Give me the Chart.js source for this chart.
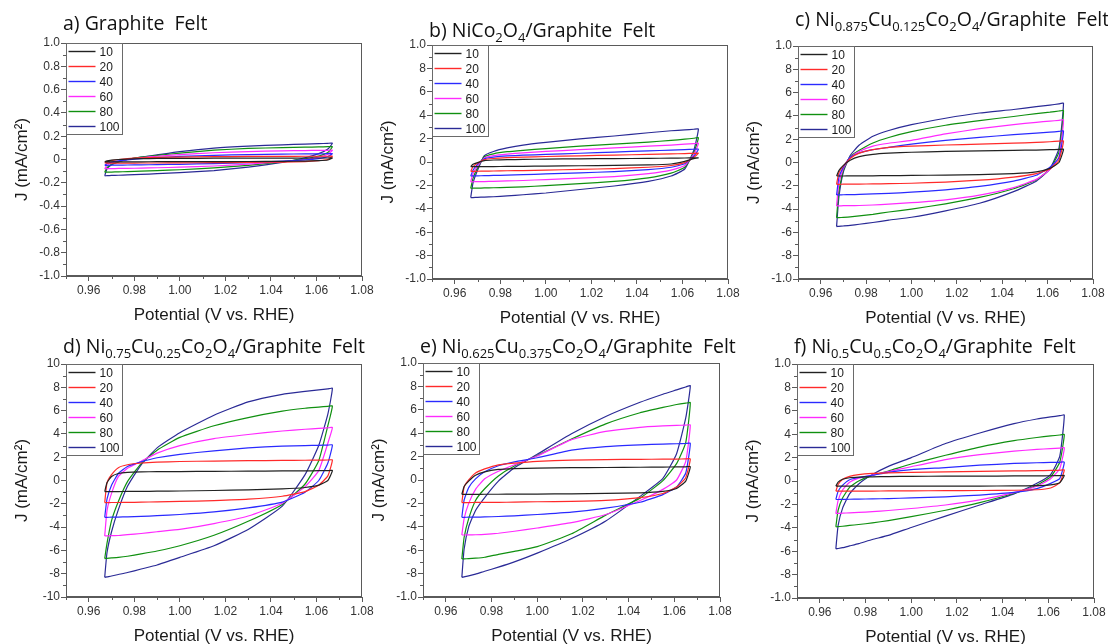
<!DOCTYPE html>
<html>
<head>
<meta charset="utf-8">
<title>Cyclic voltammetry – scan rate series</title>
<script src="https://cdn.jsdelivr.net/npm/chart.js@4.4.1/dist/chart.umd.min.js"></script>
<style>
  html, body { margin: 0; padding: 0; background: #fff; }
  body { width: 1108px; height: 644px; position: relative; overflow: hidden; }
  canvas { position: absolute; }
</style>
</head>
<body>
<script>
// Shared potential grid (V vs. RHE); every loop is sampled on it twice:
// forward (anodic) sweep and reverse (cathodic) sweep.
const POTENTIAL_V = [0.967, 0.968, 0.970, 0.973, 0.977, 0.983, 0.990, 1.000, 1.015, 1.030, 1.045, 1.055, 1.061, 1.065, 1.067];
const SCAN_RATES = ['10', '20', '40', '60', '80', '100'];

const X_TICKS = [0.96, 0.98, 1.00, 1.02, 1.04, 1.06, 1.08];
const X_TICK_LABELS = ['0.96', '0.98', '1.00', '1.02', '1.04', '1.06', '1.08'];
const X_MINOR = [0.95, 0.97, 0.99, 1.01, 1.03, 1.05, 1.07];

const Y_TICKS_SMALL = [-1, -0.8, -0.6, -0.4, -0.2, 0, 0.2, 0.4, 0.6, 0.8, 1];
const Y_LABELS_SMALL = ['-1.0', '-0.8', '-0.6', '-0.4', '-0.2', '0', '0.2', '0.4', '0.6', '0.8', '1.0'];
const Y_MINOR_SMALL = [-0.9, -0.7, -0.5, -0.3, -0.1, 0.1, 0.3, 0.5, 0.7, 0.9];
const Y_TICKS_LARGE = [-10, -8, -6, -4, -2, 0, 2, 4, 6, 8, 10];
const Y_LABELS_LARGE = ['-1.0', '-8', '-6', '-4', '-2', '0', '2', '4', '6', '8', '1.0'];
const Y_LABELS_TEN = ['-10', '-8', '-6', '-4', '-2', '0', '2', '4', '6', '8', '10'];
const Y_MINOR_LARGE = [-9, -7, -5, -3, -1, 1, 3, 5, 7, 9];

// a) Graphite felt (mA/cm2), rows = scan rates 10..100
const GF_ANODIC = [
  [-0.02, -0.012, -0.006, 0.0, 0.004, 0.007, 0.009, 0.01, 0.011, 0.012, 0.012, 0.013, 0.013, 0.013, 0.013],
  [-0.03, -0.02, -0.01, 0.0, 0.008, 0.014, 0.018, 0.021, 0.024, 0.026, 0.027, 0.028, 0.028, 0.028, 0.028],
  [-0.05, -0.035, -0.022, -0.012, -0.003, 0.008, 0.017, 0.026, 0.036, 0.042, 0.046, 0.048, 0.049, 0.05, 0.05],
  [-0.08, -0.05, -0.03, -0.015, 0.0, 0.015, 0.028, 0.042, 0.058, 0.068, 0.074, 0.077, 0.078, 0.079, 0.08],
  [-0.11, -0.07, -0.04, -0.02, 0.0, 0.02, 0.035, 0.055, 0.08, 0.095, 0.102, 0.106, 0.108, 0.11, 0.11],
  [-0.14, -0.08, -0.045, -0.02, 0.0, 0.02, 0.04, 0.068, 0.098, 0.115, 0.126, 0.132, 0.136, 0.139, 0.14]
];
const GF_CATHODIC = [
  [-0.02, -0.02, -0.02, -0.02, -0.02, -0.02, -0.019, -0.019, -0.018, -0.017, -0.016, -0.014, -0.01, -0.004, 0.013],
  [-0.03, -0.031, -0.031, -0.031, -0.031, -0.03, -0.03, -0.029, -0.027, -0.025, -0.022, -0.018, -0.01, 0.0, 0.028],
  [-0.05, -0.05, -0.049, -0.048, -0.047, -0.046, -0.044, -0.041, -0.035, -0.027, -0.014, -0.004, 0.008, 0.025, 0.05],
  [-0.08, -0.079, -0.078, -0.077, -0.076, -0.074, -0.071, -0.066, -0.056, -0.04, -0.018, 0.0, 0.02, 0.045, 0.08],
  [-0.11, -0.109, -0.108, -0.106, -0.104, -0.1, -0.095, -0.088, -0.072, -0.05, -0.02, 0.005, 0.03, 0.06, 0.11],
  [-0.14, -0.139, -0.137, -0.135, -0.132, -0.128, -0.122, -0.113, -0.095, -0.065, -0.025, 0.015, 0.05, 0.09, 0.14]
];

// b) NiCo2O4
const NCO_ANODIC = [
  [-0.4, -0.2, -0.05, 0.12, 0.17, 0.2, 0.22, 0.25, 0.27, 0.29, 0.31, 0.33, 0.34, 0.35, 0.35],
  [-0.8, -0.4, -0.1, 0.2, 0.3, 0.37, 0.42, 0.47, 0.53, 0.59, 0.65, 0.69, 0.72, 0.74, 0.75],
  [-1.2, -0.7, -0.2, 0.28, 0.42, 0.52, 0.58, 0.65, 0.75, 0.85, 0.95, 1.02, 1.06, 1.09, 1.1],
  [-1.7, -1.0, -0.35, 0.35, 0.55, 0.68, 0.78, 0.9, 1.05, 1.2, 1.35, 1.45, 1.52, 1.57, 1.6],
  [-2.25, -1.4, -0.5, 0.45, 0.7, 0.88, 1.0, 1.15, 1.35, 1.52, 1.7, 1.85, 1.95, 2.03, 2.08],
  [-3.05, -1.8, -0.7, 0.55, 0.9, 1.2, 1.45, 1.68, 1.98, 2.22, 2.5, 2.67, 2.75, 2.8, 2.82]
];
const NCO_CATHODIC = [
  [-0.4, -0.4, -0.4, -0.39, -0.39, -0.38, -0.37, -0.35, -0.32, -0.29, -0.25, -0.17, 0.05, 0.28, 0.35],
  [-0.8, -0.8, -0.79, -0.78, -0.77, -0.75, -0.73, -0.69, -0.63, -0.56, -0.45, -0.3, -0.05, 0.4, 0.75],
  [-1.2, -1.19, -1.18, -1.17, -1.15, -1.12, -1.08, -1.02, -0.93, -0.82, -0.65, -0.45, -0.15, 0.5, 1.1],
  [-1.7, -1.69, -1.68, -1.67, -1.65, -1.62, -1.58, -1.5, -1.38, -1.25, -1.0, -0.7, -0.3, 0.65, 1.6],
  [-2.25, -2.24, -2.23, -2.22, -2.2, -2.17, -2.12, -2.02, -1.85, -1.66, -1.35, -0.95, -0.45, 0.8, 2.08],
  [-3.05, -3.04, -3.02, -3.0, -2.97, -2.9, -2.8, -2.65, -2.35, -2.05, -1.65, -1.2, -0.6, 1.0, 2.82]
];

// c) Ni0.875Cu0.125Co2O4
const CU125_ANODIC = [
  [-1.16, -0.7, -0.25, 0.2, 0.5, 0.7, 0.8, 0.88, 0.95, 1.0, 1.04, 1.07, 1.1, 1.12, 1.13],
  [-1.87, -0.9, -0.3, 0.35, 0.8, 1.1, 1.3, 1.4, 1.5, 1.58, 1.66, 1.72, 1.78, 1.83, 1.85],
  [-2.79, -1.3, -0.4, 0.45, 0.82, 1.1, 1.3, 1.58, 1.9, 2.15, 2.4, 2.52, 2.6, 2.67, 2.7],
  [-3.73, -1.8, -0.5, 0.45, 0.95, 1.4, 1.65, 1.9, 2.45, 2.9, 3.25, 3.45, 3.55, 3.62, 3.65],
  [-4.74, -2.5, -0.65, 0.5, 1.05, 1.68, 2.15, 2.65, 3.2, 3.6, 3.95, 4.2, 4.32, 4.42, 4.45],
  [-5.5, -3.0, -0.8, 0.6, 1.5, 2.25, 2.75, 3.25, 3.8, 4.25, 4.55, 4.8, 4.93, 5.03, 5.08]
];
const CU125_CATHODIC = [
  [-1.16, -1.16, -1.16, -1.15, -1.15, -1.14, -1.13, -1.11, -1.08, -1.04, -0.95, -0.8, -0.5, 0.0, 1.13],
  [-1.87, -1.87, -1.86, -1.86, -1.85, -1.84, -1.82, -1.78, -1.68, -1.52, -1.25, -0.95, -0.55, 0.2, 1.85],
  [-2.79, -2.78, -2.77, -2.76, -2.74, -2.7, -2.65, -2.55, -2.35, -2.05, -1.6, -1.1, -0.4, 0.4, 2.7],
  [-3.73, -3.72, -3.71, -3.7, -3.69, -3.65, -3.58, -3.45, -3.2, -2.8, -2.15, -1.45, -0.6, 0.5, 3.65],
  [-4.74, -4.73, -4.71, -4.67, -4.58, -4.45, -4.25, -4.0, -3.55, -3.0, -2.25, -1.5, -0.55, 0.9, 4.45],
  [-5.5, -5.48, -5.45, -5.4, -5.3, -5.15, -4.95, -4.7, -4.15, -3.5, -2.5, -1.6, -0.55, 1.22, 5.08]
];

// d) Ni0.75Cu0.25Co2O4
const CU25_ANODIC = [
  [-0.96, -0.2, 0.35, 0.6, 0.7, 0.74, 0.76, 0.77, 0.79, 0.8, 0.82, 0.83, 0.84, 0.85, 0.85],
  [-1.9, -0.2, 0.5, 1.1, 1.35, 1.5, 1.58, 1.63, 1.67, 1.7, 1.72, 1.74, 1.75, 1.76, 1.76],
  [-3.16, -1.6, -0.4, 0.6, 1.2, 1.6, 1.95, 2.25, 2.55, 2.8, 2.95, 3.0, 3.02, 3.04, 3.05],
  [-4.76, -2.6, -1.1, 0.33, 1.05, 1.65, 2.35, 3.0, 3.6, 3.95, 4.25, 4.4, 4.47, 4.52, 4.54],
  [-6.7, -5.4, -3.45, -1.8, -0.1, 1.45, 2.6, 3.7, 4.7, 5.4, 5.95, 6.2, 6.3, 6.37, 6.4],
  [-8.31, -6.2, -4.4, -2.5, -0.5, 1.35, 2.8, 4.1, 5.6, 6.75, 7.4, 7.65, 7.78, 7.86, 7.91]
];
const CU25_CATHODIC = [
  [-0.96, -0.96, -0.96, -0.95, -0.94, -0.93, -0.92, -0.9, -0.86, -0.8, -0.72, -0.6, -0.4, 0.0, 0.85],
  [-1.9, -1.9, -1.89, -1.89, -1.88, -1.86, -1.83, -1.8, -1.72, -1.6, -1.35, -0.95, -0.4, 0.4, 1.76],
  [-3.16, -3.16, -3.15, -3.14, -3.12, -3.08, -3.02, -2.92, -2.7, -2.35, -1.85, -1.0, 0.0, 1.5, 3.05],
  [-4.76, -4.75, -4.74, -4.72, -4.65, -4.55, -4.4, -4.2, -3.7, -3.05, -1.95, -0.53, 0.85, 3.2, 4.54],
  [-6.7, -6.68, -6.65, -6.6, -6.5, -6.3, -6.05, -5.6, -4.7, -3.5, -2.05, -0.3, 1.7, 4.7, 6.4],
  [-8.31, -8.27, -8.2, -8.07, -7.9, -7.6, -7.25, -6.6, -5.6, -4.2, -2.2, 0.5, 3.0, 5.7, 7.91]
];

// e) Ni0.625Cu0.375Co2O4
const CU375_ANODIC = [
  [-1.23, -0.55, -0.1, 0.4, 0.7, 0.9, 0.97, 1.02, 1.05, 1.07, 1.09, 1.1, 1.12, 1.13, 1.14],
  [-1.94, -0.6, 0.0, 0.6, 0.95, 1.3, 1.45, 1.6, 1.7, 1.74, 1.77, 1.78, 1.79, 1.8, 1.8],
  [-3.19, -1.71, -0.65, 0.1, 0.7, 1.22, 1.55, 1.9, 2.55, 2.85, 3.0, 3.07, 3.1, 3.12, 3.13],
  [-4.7, -3.3, -2.0, -0.8, 0.1, 0.75, 1.3, 2.05, 3.45, 4.15, 4.5, 4.62, 4.67, 4.69, 4.7],
  [-6.75, -4.9, -3.3, -1.75, -0.75, 0.35, 1.2, 2.1, 3.5, 4.8, 5.75, 6.2, 6.45, 6.57, 6.61],
  [-8.32, -5.9, -4.0, -2.6, -1.5, -0.1, 1.05, 2.2, 3.95, 5.43, 6.64, 7.33, 7.7, 7.95, 8.06]
];
const CU375_CATHODIC = [
  [-1.23, -1.23, -1.23, -1.23, -1.22, -1.22, -1.21, -1.2, -1.18, -1.15, -1.1, -0.97, -0.72, -0.1, 1.14],
  [-1.94, -1.94, -1.93, -1.92, -1.92, -1.91, -1.89, -1.86, -1.82, -1.74, -1.5, -1.15, -0.6, 0.2, 1.8],
  [-3.19, -3.19, -3.18, -3.17, -3.16, -3.12, -3.06, -2.95, -2.75, -2.4, -1.9, -1.25, -0.6, 0.6, 3.13],
  [-4.7, -4.7, -4.69, -4.68, -4.65, -4.55, -4.38, -4.1, -3.65, -2.95, -1.75, -0.8, 0.0, 1.6, 4.7],
  [-6.75, -6.74, -6.72, -6.68, -6.6, -6.35, -6.1, -5.7, -4.6, -3.0, -1.55, -0.05, 1.4, 3.2, 6.61],
  [-8.32, -8.28, -8.2, -8.05, -7.8, -7.45, -7.0, -6.25, -5.0, -3.5, -1.4, 0.14, 2.25, 5.3, 8.06]
];

// f) Ni0.5Cu0.5Co2O4
const CU50_ANODIC = [
  [-0.44, -0.1, 0.15, 0.28, 0.33, 0.36, 0.38, 0.4, 0.41, 0.42, 0.43, 0.44, 0.45, 0.46, 0.47],
  [-0.87, -0.3, 0.15, 0.4, 0.55, 0.65, 0.7, 0.74, 0.78, 0.82, 0.86, 0.88, 0.9, 0.92, 0.93],
  [-1.58, -0.87, -0.35, 0.1, 0.3, 0.49, 0.74, 0.98, 1.15, 1.35, 1.5, 1.56, 1.59, 1.6, 1.61],
  [-2.78, -1.65, -0.75, -0.1, 0.25, 0.5, 0.8, 1.22, 1.83, 2.25, 2.55, 2.7, 2.77, 2.81, 2.83],
  [-3.92, -2.5, -1.44, -0.55, 0.0, 0.48, 0.85, 1.45, 2.2, 2.9, 3.45, 3.72, 3.85, 3.93, 3.97],
  [-5.8, -3.8, -2.3, -1.1, -0.25, 0.55, 1.25, 2.0, 3.2, 4.1, 4.9, 5.3, 5.48, 5.58, 5.63]
];
const CU50_CATHODIC = [
  [-0.44, -0.44, -0.44, -0.44, -0.44, -0.44, -0.44, -0.44, -0.44, -0.43, -0.42, -0.4, -0.33, -0.15, 0.47],
  [-0.87, -0.87, -0.87, -0.87, -0.86, -0.86, -0.85, -0.84, -0.83, -0.81, -0.79, -0.75, -0.6, -0.15, 0.93],
  [-1.58, -1.58, -1.57, -1.56, -1.55, -1.53, -1.5, -1.45, -1.35, -1.2, -0.98, -0.65, -0.2, 0.2, 1.61],
  [-2.78, -2.77, -2.75, -2.72, -2.69, -2.62, -2.52, -2.35, -2.05, -1.62, -1.0, -0.45, 0.2, 1.05, 2.83],
  [-3.92, -3.9, -3.87, -3.8, -3.72, -3.58, -3.38, -3.05, -2.5, -1.85, -1.05, -0.35, 0.35, 1.6, 3.97],
  [-5.8, -5.77, -5.7, -5.55, -5.35, -5.0, -4.65, -3.97, -3.0, -2.05, -1.1, -0.2, 0.55, 2.1, 5.63]
];

const LINE_COLORS = ['#222222', '#ff2a2a', '#2a2aff', '#ff2aff', '#109010', '#2a2a96'];

const AXIS_W = 58;     // y tick labels + rotated title
const AXIS_H = 54;     // x tick labels + title
const PAD_TOP = 36;    // room for the panel heading
const PAD_RIGHT = 16;
const FRAME = '#5a5a5a';
const TICK_FONT = { family: "'Liberation Sans', Arial, sans-serif", size: 12 };
const TITLE_FONT = "'Open Sans', 'Noto Sans', sans-serif";

const panels = [
  { plot: [66, 43, 296, 233], dy: -13, anodic: GF_ANODIC, cathodic: GF_CATHODIC,
    yTicks: Y_TICKS_SMALL, yLabels: Y_LABELS_SMALL, yMinor: Y_MINOR_SMALL,
    title: [['a) Graphite  Felt']] },
  { plot: [432, 45, 296, 234], dy: -8, anodic: NCO_ANODIC, cathodic: NCO_CATHODIC,
    yTicks: Y_TICKS_LARGE, yLabels: Y_LABELS_LARGE, yMinor: Y_MINOR_LARGE,
    title: [['b) NiCo'], ['2', 1], ['O'], ['4', 1], ['/Graphite  Felt']] },
  { plot: [798, 46, 295, 233], dy: -20, anodic: CU125_ANODIC, cathodic: CU125_CATHODIC,
    yTicks: Y_TICKS_LARGE, yLabels: Y_LABELS_LARGE, yMinor: Y_MINOR_LARGE,
    title: [['c) Ni'], ['0.875', 1], ['Cu'], ['0.125', 1], ['Co'], ['2', 1], ['O'], ['4', 1], ['/Graphite  Felt']] },
  { plot: [66, 364, 296, 233], dy: -11, anodic: CU25_ANODIC, cathodic: CU25_CATHODIC,
    yTicks: Y_TICKS_LARGE, yLabels: Y_LABELS_TEN, yMinor: Y_MINOR_LARGE,
    title: [['d) Ni'], ['0.75', 1], ['Cu'], ['0.25', 1], ['Co'], ['2', 1], ['O'], ['4', 1], ['/Graphite  Felt']] },
  { plot: [423, 363, 297, 234], dy: -10, anodic: CU375_ANODIC, cathodic: CU375_CATHODIC,
    yTicks: Y_TICKS_LARGE, yLabels: Y_LABELS_LARGE, yMinor: Y_MINOR_LARGE,
    title: [['e) Ni'], ['0.625', 1], ['Cu'], ['0.375', 1], ['Co'], ['2', 1], ['O'], ['4', 1], ['/Graphite  Felt']] },
  { plot: [797, 364, 297, 234], dy: -11, anodic: CU50_ANODIC, cathodic: CU50_CATHODIC,
    yTicks: Y_TICKS_LARGE, yLabels: Y_LABELS_LARGE, yMinor: Y_MINOR_LARGE,
    title: [['f) Ni'], ['0.5', 1], ['Cu'], ['0.5', 1], ['Co'], ['2', 1], ['O'], ['4', 1], ['/Graphite  Felt']] }
];

// forward sweep, then back along the reverse sweep to close the loop
function loopPoints(anodic, cathodic) {
  const pts = POTENTIAL_V.map((v, i) => ({ x: v, y: anodic[i] }));
  for (let i = POTENTIAL_V.length - 2; i >= 0; i--) {
    pts.push({ x: POTENTIAL_V[i], y: cathodic[i] });
  }
  return pts;
}

// Closed frame, minor ticks, boxed legend and the sub-scripted heading
const panelDecor = {
  id: 'panelDecor',
  afterDraw(chart, args, opts) {
    const { ctx, chartArea: a, scales } = chart;
    ctx.save();
    ctx.strokeStyle = FRAME;
    ctx.lineWidth = 1;
    ctx.strokeRect(Math.round(a.left) + 0.5, Math.round(a.top) + 0.5,
      Math.round(a.right - a.left) - 1, Math.round(a.bottom - a.top) - 1);

    ctx.beginPath();
    X_MINOR.forEach(v => {
      const x = Math.round(scales.x.getPixelForValue(v)) + 0.5;
      ctx.moveTo(x, a.bottom); ctx.lineTo(x, a.bottom + 3);
    });
    opts.yMinor.forEach(v => {
      const y = Math.round(scales.y.getPixelForValue(v)) + 0.5;
      ctx.moveTo(a.left, y); ctx.lineTo(a.left - 3, y);
    });
    ctx.stroke();

    // legend box in the upper-left corner of the plot
    const lx = Math.round(a.left) + 0.5, ly = Math.round(a.top) + 0.5;
    ctx.fillStyle = '#fff';
    ctx.fillRect(lx, ly, 56, 91);
    ctx.strokeStyle = '#6a6a6a';
    ctx.strokeRect(lx, ly, 56, 91);
    ctx.font = "12px 'Liberation Sans', Arial, sans-serif";
    ctx.textBaseline = 'middle';
    chart.data.datasets.forEach((ds, i) => {
      const y = ly + 8 + i * 15;
      ctx.strokeStyle = ds.borderColor;
      ctx.lineWidth = 1.4;
      ctx.beginPath();
      ctx.moveTo(lx + 2, y); ctx.lineTo(lx + 29, y);
      ctx.stroke();
      ctx.fillStyle = '#1a1a1a';
      ctx.fillText(ds.label, lx + 33, y + 1);
    });

    // heading with subscripts
    let x = a.left + opts.dx;
    const base = a.top + opts.dy;
    ctx.fillStyle = '#111';
    ctx.textBaseline = 'alphabetic';
    opts.title.forEach(([text, sub]) => {
      ctx.font = sub ? `13px ${TITLE_FONT}` : `19.5px ${TITLE_FONT}`;
      ctx.fillText(text, x, sub ? base + 5 : base);
      x += ctx.measureText(text).width;
    });
    ctx.restore();
  }
};

Chart.defaults.font.family = "'Liberation Sans', Arial, sans-serif";
Chart.defaults.color = '#333';

panels.forEach(p => {
  const [left, top, w, h] = p.plot;
  const cw = AXIS_W + w + PAD_RIGHT;
  const ch = PAD_TOP + h + AXIS_H;
  const canvas = document.createElement('canvas');
  canvas.width = cw;
  canvas.height = ch;
  canvas.style.left = (left - AXIS_W) + 'px';
  canvas.style.top = (top - PAD_TOP) + 'px';
  canvas.style.width = cw + 'px';
  canvas.style.height = ch + 'px';
  document.body.appendChild(canvas);

  const datasets = SCAN_RATES.map((rate, i) => ({
    label: rate,
    data: loopPoints(p.anodic[i], p.cathodic[i]),
    showLine: true,
    borderColor: LINE_COLORS[i],
    borderWidth: 1.2,
    pointRadius: 0,
    tension: 0.15,
    fill: false
  }));

  const yRange = p.yTicks[p.yTicks.length - 1];

  new Chart(canvas, {
    type: 'scatter',
    data: { datasets },
    options: {
      responsive: false,
      animation: false,
      layout: { padding: { top: PAD_TOP, right: PAD_RIGHT, left: 0, bottom: 0 } },
      plugins: {
        legend: { display: false },
        tooltip: { enabled: false },
        panelDecor: { dx: -3, dy: p.dy, title: p.title, yMinor: p.yMinor }
      },
      scales: {
        x: {
          type: 'linear',
          min: 0.95,
          max: 1.08,
          afterFit: s => { s.height = AXIS_H; },
          afterBuildTicks: s => { s.ticks = X_TICKS.map(v => ({ value: v })); },
          ticks: {
            autoSkip: false,
            maxRotation: 0,
            padding: 2,
            font: TICK_FONT,
            color: '#333',
            callback: (v, i) => X_TICK_LABELS[i]
          },
          grid: { drawOnChartArea: false, drawTicks: true, tickLength: 5, color: FRAME, tickColor: FRAME },
          border: { display: true, color: FRAME },
          title: {
            display: true,
            text: 'Potential (V vs. RHE)',
            color: '#1a1a1a',
            font: { family: "'Liberation Sans', Arial, sans-serif", size: 17 }
          }
        },
        y: {
          type: 'linear',
          min: -yRange,
          max: yRange,
          afterFit: s => { s.width = AXIS_W; },
          afterBuildTicks: s => { s.ticks = p.yTicks.map(v => ({ value: v })); },
          ticks: {
            autoSkip: false,
            padding: 1,
            font: TICK_FONT,
            color: '#333',
            callback: (v, i) => p.yLabels[i]
          },
          grid: { drawOnChartArea: false, drawTicks: true, tickLength: 5, color: FRAME, tickColor: FRAME },
          border: { display: true, color: FRAME },
          title: {
            display: true,
            text: 'J (mA/cm²)',
            color: '#1a1a1a',
            font: { family: "'Liberation Sans', Arial, sans-serif", size: 17 }
          }
        }
      }
    },
    plugins: [panelDecor]
  });
});
</script>
</body>
</html>
